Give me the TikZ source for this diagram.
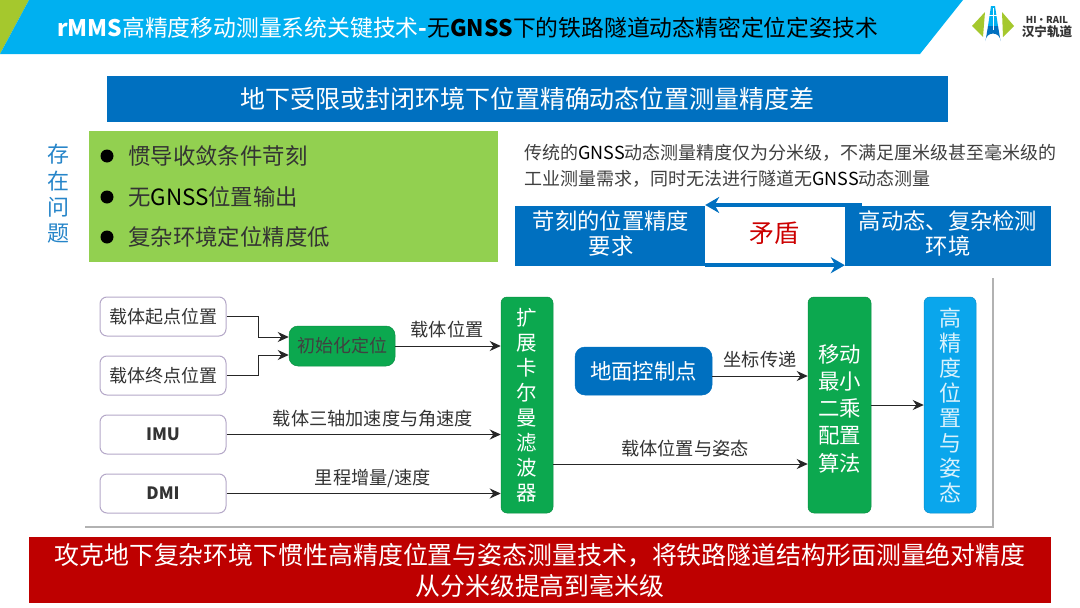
\documentclass[tikz,border=0pt]{standalone}
\usepackage{fontspec}
\setmainfont{Noto Sans CJK SC}
\usetikzlibrary{arrows.meta}
\definecolor{headcyan}{HTML}{00B0F0}
\definecolor{headlime}{HTML}{A5C82D}
\definecolor{barblue}{HTML}{0070C0}
\definecolor{padgreen}{HTML}{92D050}
\definecolor{flowgreen}{HTML}{0CA84F}
\definecolor{outcyan}{HTML}{0AA6EC}
\definecolor{edgepurple}{HTML}{B5A8C8}
\definecolor{barred}{HTML}{BE0000}
\definecolor{notegray}{HTML}{404040}
\begin{document}
\begin{tikzpicture}[
    x=1pt, y=-1pt,
    bar/.style={inner sep=0pt, text=white, align=center},
    inputbox/.style={draw=edgepurple, line width=1pt, fill=white, rounded corners=7pt, inner sep=0pt, minimum width=126pt, minimum height=39pt, text=black!80, font=\fontsize{18}{20}\selectfont},
    flowbox/.style={draw=flowgreen!85!black, line width=0.5pt, fill=flowgreen, rounded corners=6pt, inner sep=0pt, minimum height=216pt, align=center, text=white},
    flowtext/.style={text=black!80, inner sep=0pt, font=\fontsize{18.2}{20}\selectfont},
    flow/.style={-{Stealth[length=11pt,width=10pt]}, line width=1pt, draw=black!85},
    item/.style={anchor=west, inner sep=0pt, text=black!80, font=\fontsize{22.4}{26}\selectfont},
    dot/.style={circle, fill=black, inner sep=0pt, minimum size=13pt},
    clash/.style={-{Stealth[length=14pt,width=16pt]}, line width=4pt, draw=barblue}
]
\useasboundingbox (0,0) rectangle (1080,608);
\fill[white] (0,0) rectangle (1080,608);

% --- header ---
\fill[headlime] (0,0) -- (29,0) -- (0,54) -- cycle;
\fill[headcyan] (29,0) -- (963,0) -- (920,54) -- (0,54) -- cycle;
\node[inner sep=0pt, anchor=west, font=\fontsize{22.8}{26}\selectfont] (title) at (57,27.5)
    {\textcolor{white}{\textbf{rMMS}高精度移动测量系统关键技术\textbf{-}}\textcolor{black}{无\textbf{GNSS}下的铁路隧道动态精密定位定姿技术}};

% logo
\fill[headlime] (972,26) -- (985,12) -- (983,37) -- cycle;
\fill[headlime] (1014,26) -- (1002,12) -- (1003,37) -- cycle;
\fill[headcyan] (991,6) -- (995,6) -- (998,26) -- (988,26) -- cycle;
\fill[barblue] (988,26) -- (998,26) -- (1000.5,41) arc (0:-180:7.5) -- cycle;
\draw[white, line width=1pt] (993,8) -- (993,30);
\draw[white, line width=1pt] (989,15) -- (997,15);
\node[inner sep=0pt, text=black!80, font=\fontsize{9.5}{11}\selectfont\bfseries] (brand) at (1047,20) {HI·RAIL};
\node[inner sep=0pt, text=black!80, font=\fontsize{12.6}{14}\selectfont\bfseries] (brandcn) at (1047,31.5) {汉宁轨道};

% --- problem banner ---
\node[bar, fill=barblue, minimum width=841pt, minimum height=46pt, font=\fontsize{25}{28}\selectfont] (problem) at (527.5,99)
    {地下受限或封闭环境下位置精确动态位置测量精度差};

% --- left column ---
\node[inner sep=0pt, align=center, text=barblue!85!white, font=\fontsize{22}{26.3}\selectfont] (issue) at (58,194) {存\\在\\问\\题};
\fill[padgreen] (89,131) rectangle (498,262);
\node[dot] (dota) at (107,156) {};
\node[dot] (dotb) at (107,197) {};
\node[dot] (dotc) at (107,237) {};
\node[item] (itema) at (128,156) {惯导收敛条件苛刻};
\node[item] (itemb) at (128,197) {无\textcolor{black}{GNSS}位置输出};
\node[item] (itemc) at (128,237) {复杂环境定位精度低};

% --- contradiction ---
\node[anchor=west, inner sep=0pt, text=notegray, font=\fontsize{18}{26}\selectfont] (notea) at (524,153) {传统的\textcolor{black}{GNSS}动态测量精度仅为分米级，不满足厘米级甚至毫米级的};
\node[anchor=west, inner sep=0pt, text=notegray, font=\fontsize{18}{26}\selectfont] (noteb) at (524,179) {工业测量需求，同时无法进行隧道无\textcolor{black}{GNSS}动态测量};
\node[bar, fill=barblue, minimum width=190pt, minimum height=60pt] (demand) at (610,236) {};
\node[bar, fill=barblue, minimum width=206pt, minimum height=60pt] (scene) at (948,236) {};
\node[bar, font=\fontsize{22.3}{25.5}\selectfont] (demandtext) at (611,233.5) {苛刻的位置精度\\要求};
\node[bar, font=\fontsize{22.3}{25.5}\selectfont] (scenetext) at (948,233.5) {高动态、复杂检测\\环境};
\node[inner sep=0pt, text=red!80!black, font=\fontsize{25}{28}\selectfont] (clash) at (774,233) {矛盾};
\coordinate (topend) at (862,205);
\draw[clash] (topend) -- (topend -| demand.east);
\draw[clash] ([yshift=1pt]demand.south east) -- ([yshift=1pt]scene.south west);

% --- flow chart ---
\draw[black!30, line width=1.5pt] (85,527) -- (993,527) -- (993,278);

\node[inputbox] (start) at (163,316.5) {载体起点位置};
\node[inputbox] (stop) at (163,375.5) {载体终点位置};
\node[inputbox, font=\fontsize{17}{20}\selectfont\bfseries] (imu) at (163,434.5) {IMU};
\node[inputbox, font=\fontsize{17}{20}\selectfont\bfseries] (dmi) at (163,493.5) {DMI};
\node[flowbox, minimum width=106pt, minimum height=40pt, rounded corners=9pt, text=black!75, font=\fontsize{18}{20}\selectfont] (init) at (342,346) {初始化定位};
\node[flowbox, minimum width=52pt, font=\fontsize{20.5}{25}\selectfont] (ekf) at (527,405) {扩\\展\\卡\\尔\\曼\\滤\\波\\器};
\node[flowbox, draw=barblue, fill=barblue, minimum width=137pt, minimum height=48pt, rounded corners=10pt, font=\fontsize{21.4}{24}\selectfont] (ground) at (643.5,371) {地面控制点};
\node[flowbox, minimum width=63pt] (lsq) at (839.5,405) {};
\node[bar, font=\fontsize{21.4}{27.2}\selectfont] (lsqtext) at (839.5,408.5) {移动\\最小\\二乘\\配置\\算法};
\node[flowbox, draw=outcyan!85!black, fill=outcyan, minimum width=52pt, font=\fontsize{22}{25}\selectfont, text=white!85!outcyan] (result) at (950,405) {高\\精\\度\\位\\置\\与\\姿\\态};

\draw[flow] (start.east) -- ++(32,0) |- ([yshift=9pt]init.west);
\draw[flow] (stop.east) -- ++(32,0) |- ([yshift=-9pt]init.west);
\draw[flow] (init.east) -- (init.east -| ekf.west);
\draw[flow] (imu.east) -- (imu.east -| ekf.west);
\draw[flow] (dmi.east) -- (dmi.east -| ekf.west);
\draw[flow] ([yshift=-5pt]ground.east) -- ([yshift=-5pt]ground.east -| lsq.west);
\coordinate (fused) at (527,464);
\draw[flow] (fused -| ekf.east) -- (fused -| lsq.west);
\draw[flow] (lsq.east) -- (result.west);

\node[flowtext] (labpos) at (447,330) {载体位置};
\node[flowtext] (labimu) at (373,419) {载体三轴加速度与角速度};
\node[flowtext] (labdmi) at (373,478) {里程增量/速度};
\node[flowtext] (labcoord) at (760,360) {坐标传递};
\node[flowtext] (labpose) at (685,449) {载体位置与姿态};

% --- conclusion ---
\node[bar, fill=barred, minimum width=1022pt, minimum height=66pt, font=\fontsize{24.9}{31}\selectfont] (goal) at (540,570)
    {攻克地下复杂环境下惯性高精度位置与姿态测量技术，将铁路隧道结构形面测量绝对精度\\从分米级提高到毫米级};
\end{tikzpicture}
\end{document}
